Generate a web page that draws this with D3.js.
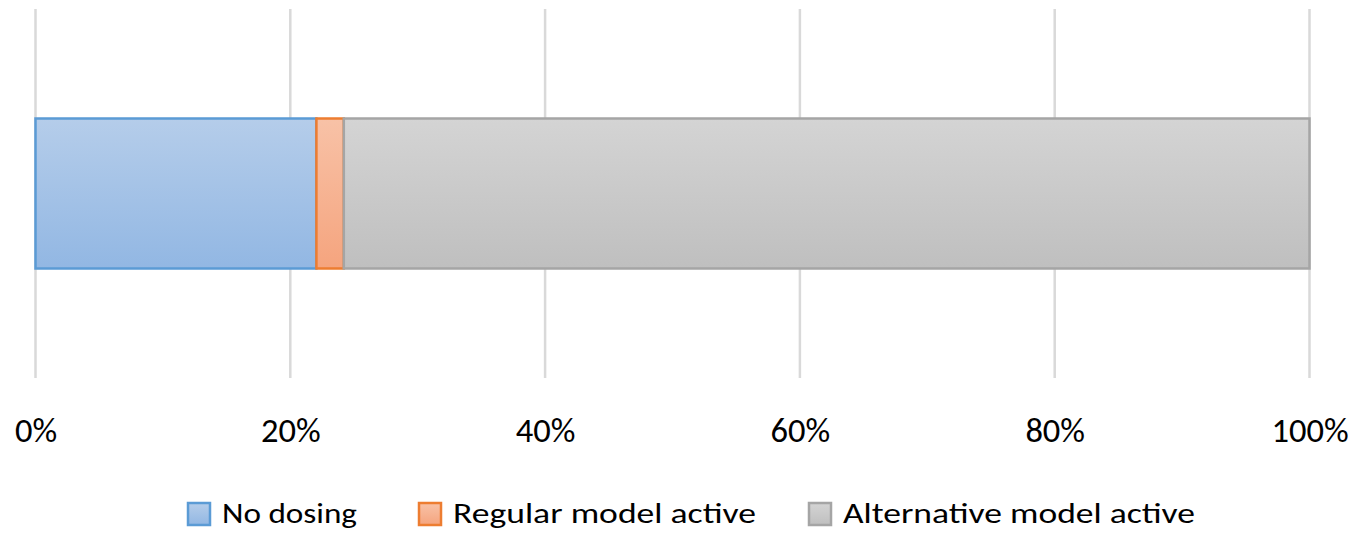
<!DOCTYPE html>
<html>
<head>
<meta charset="utf-8">
<script src="https://cdn.jsdelivr.net/npm/d3@7"></script>
<style>
  html, body { margin: 0; padding: 0; background: #fff; }
  svg { display: block; }
  text { font-family: Carlito, Calibri, Lato, "Open Sans", sans-serif; fill: #000; }
</style>
</head>
<body>
<svg id="chart" width="1356" height="533"></svg>
<script>
// Share of time per dosing state (single stacked bar)
const seriesNames = ["No dosing", "Regular model active", "Alternative model active"];
const seriesValues = [0.2205, 0.0215, 0.758];
const tickValues = [0, 0.2, 0.4, 0.6, 0.8, 1.0];
const tickLabels = ["0%", "20%", "40%", "60%", "80%", "100%"];

const fillTop = ["#b5cdea", "#f8c2a7", "#d4d4d4"];
const fillBottom = ["#92b7e3", "#f5a47e", "#bfbfbf"];
const strokes = ["#5b9bd5", "#ed7d31", "#a5a5a5"];

const svg = d3.select("#chart");

const x = d3.scaleLinear().domain([0, 1]).range([35.5, 1309.5]);
const y = d3.scaleBand().domain(["row"]).range([9, 378]).paddingInner(0).paddingOuter(0.73);

// gradients
const defs = svg.append("defs");
seriesNames.forEach((n, i) => {
  const g = defs.append("linearGradient").attr("id", "g" + i)
    .attr("x1", 0).attr("y1", 0).attr("x2", 0).attr("y2", 1);
  g.append("stop").attr("offset", "0%").attr("stop-color", fillTop[i]);
  g.append("stop").attr("offset", "100%").attr("stop-color", fillBottom[i]);
});

// vertical gridlines
svg.append("g").selectAll("line").data(tickValues).join("line")
  .attr("x1", d => x(d)).attr("x2", d => x(d))
  .attr("y1", 9).attr("y2", 378)
  .attr("stroke", "#d9d9d9").attr("stroke-width", 2.5);

// stacked segments
const stacked = [];
let acc = 0;
seriesValues.forEach((v, i) => { stacked.push({i, x0: acc, x1: acc + v}); acc += v; });

svg.append("g").selectAll("rect").data(stacked).join("rect")
  .attr("x", d => x(d.x0))
  .attr("y", y("row"))
  .attr("width", d => x(d.x1) - x(d.x0))
  .attr("height", y.bandwidth())
  .attr("fill", d => `url(#g${d.i})`)
  .attr("stroke", d => strokes[d.i])
  .attr("stroke-width", 2.5);

// axis labels
const axis = d3.axisBottom(x).tickValues(tickValues)
  .tickFormat((d, i) => tickLabels[i]).tickSize(0).tickPadding(0);
const ax = svg.append("g").attr("transform", "translate(0,442)").call(axis);
ax.select(".domain").remove();
ax.selectAll("text").attr("font-size", 34.5).attr("dy", 0).attr("y", 0)
  .attr("fill", "#000")
  .style("font-family", "Carlito, Calibri, Lato, 'Open Sans', sans-serif");

// legend: swatch positions and label widths
const legendX = [187, 418, 808];
const legendTextW = [135, 303, 352];
const lg = svg.append("g");
seriesNames.forEach((n, i) => {
  lg.append("rect").attr("x", legendX[i] + 1).attr("y", 503)
    .attr("width", 22).attr("height", 22)
    .attr("fill", `url(#g${i})`).attr("stroke", strokes[i]).attr("stroke-width", 2.5);
  lg.append("text")
    .attr("transform", `translate(${legendX[i] + 35},523) scale(1,0.88)`)
    .attr("font-size", 33.5)
    .attr("textLength", legendTextW[i]).attr("lengthAdjust", "spacingAndGlyphs")
    .text(n);
});
</script>
</body>
</html>
